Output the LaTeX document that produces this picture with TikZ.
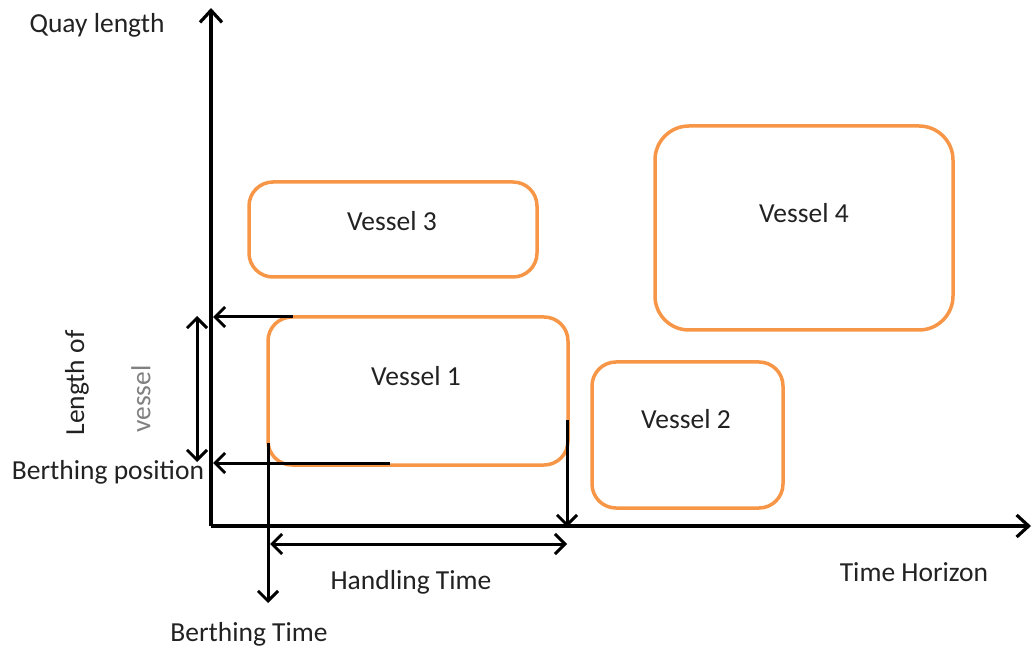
\documentclass[tikz,border=0pt]{standalone}
\usepackage{fontspec}
\setmainfont{Carlito}
\usetikzlibrary{arrows.meta}
\definecolor{vorange}{HTML}{F79646}
\definecolor{txt}{HTML}{222222}
\tikzset{
  vbox/.style={draw=vorange, line width=3.5pt, rounded corners=24pt},
  axis/.style={line width=3.8pt, -{Straight Barb[length=12pt,width=22pt,line width=3.2pt]}},
  arr/.style={line width=3pt, -{Straight Barb[length=10pt,width=20pt,line width=3pt]}},
  darr/.style={line width=3pt, {Straight Barb[length=10pt,width=20pt,line width=3pt]}-{Straight Barb[length=10pt,width=20pt,line width=3pt]}},
  lab/.style={font=\fontsize{27.5}{32}\selectfont, text=txt, inner sep=0pt},
}
\begin{document}
\begin{tikzpicture}[x=1pt,y=-1pt]
\useasboundingbox (0,0) rectangle (1034,652);
% vessels
\draw[vbox] (268,317) rectangle (568,465);
\draw[vbox] (249,182) rectangle (537,277);
\draw[vbox, rounded corners=34pt] (655,126) rectangle (953,330);
\draw[vbox] (592,362) rectangle (783,508);
\node[lab] (v1) at (416,376) {Vessel 1};
\node[lab] (v2) at (686,419) {Vessel 2};
\node[lab] (v3) at (392,221) {Vessel 3};
\node[lab] (v4) at (804,213) {Vessel 4};
% axes
\coordinate (o) at (211,526);
\coordinate (ytop) at (211,8);
\coordinate (xend) at (1031,526);
\draw[axis] (o) -- (ytop);
\draw[axis] (o) -- (xend);
% arrows
\coordinate (t1) at (293,317);
\coordinate (t1a) at (213,317);
\coordinate (b1) at (390,463);
\coordinate (b1a) at (213,463);
\draw[arr] (t1) -- (t1a);
\draw[arr] (b1) -- (b1a);
\coordinate (lv1) at (197,316);
\coordinate (lv2) at (197,462);
\draw[darr] (lv1) -- (lv2);
\coordinate (bt1) at (268,443);
\coordinate (bt2) at (268,603);
\draw[arr] (bt1) -- (bt2);
\coordinate (ht1) at (567,420);
\coordinate (ht2) at (567,527);
\draw[arr] (ht1) -- (ht2);
\coordinate (h1) at (270,544);
\coordinate (h2) at (567,544);
\draw[darr] (h1) -- (h2);
% labels
\node[lab] (ql) at (97,25) {Quay length};
\node[lab, rotate=90] (lo) at (77,383) {Length of};
\node[lab, rotate=90, text=gray] (ve) at (141,399) {vessel};
\node[lab] (bp) at (108,472) {Berthing position};
\node[lab] (hti) at (411,582) {Handling Time};
\node[lab] (th) at (914,572) {Time Horizon};
\node[lab] (bti) at (249,634) {Berthing Time};
\end{tikzpicture}
\end{document}
